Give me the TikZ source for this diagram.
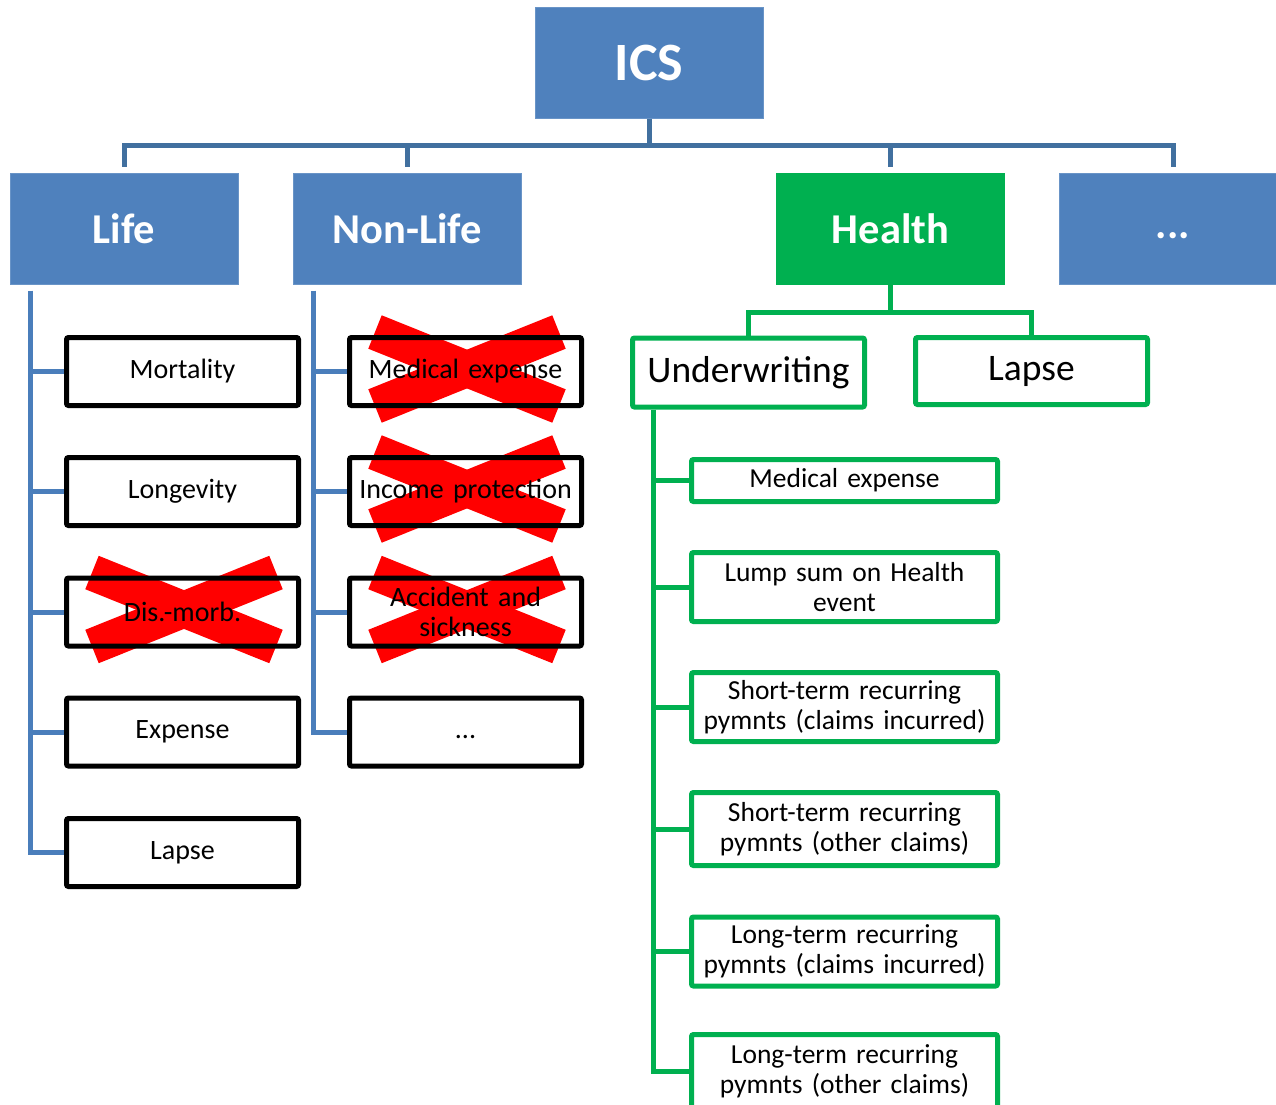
\documentclass[tikz,border=0pt]{standalone}
\usepackage{fontspec}
\setmainfont{Carlito}
\usetikzlibrary{calc,backgrounds}
\definecolor{icsblue}{HTML}{4F81BD}
\definecolor{busblue}{HTML}{41709F}
\definecolor{connblue}{HTML}{4A7EBB}
\definecolor{hgreen}{HTML}{00B050}
\tikzset{
  topbox/.style={fill=icsblue, draw=icsblue!85!white, line width=1pt, text=white, inner sep=0pt,
    minimum width=228pt, minimum height=111pt, font=\bfseries\fontsize{42.5}{48}\selectfont},
  icsbox/.style={topbox, font=\bfseries\fontsize{54}{60}\selectfont},
  healthbox/.style={topbox, fill=hgreen, draw=hgreen},
  riskbox/.style={draw=black, line width=5pt, rounded corners=2pt, inner sep=0pt,
    minimum width=232pt, minimum height=68pt, align=center, text width=230pt,
    font=\fontsize{28}{30}\selectfont},
  gbox/.style={draw=hgreen, line width=5pt, rounded corners=2pt, inner sep=0pt,
    minimum width=232pt, minimum height=69pt, align=center, text width=230pt,
    font=\fontsize{37.5}{42}\selectfont},
  gsub/.style={draw=hgreen, line width=5pt, rounded corners=2pt, inner sep=0pt,
    minimum width=306pt, minimum height=69pt, align=center, text width=300pt,
    font=\fontsize{27.5}{30}\selectfont},
  busline/.style={draw=busblue, line width=5pt},
  bconn/.style={draw=connblue, line width=5pt},
  gconn/.style={draw=hgreen, line width=5pt},
  xbar/.style={draw=red, line width=36pt, line cap=butt}
}
\begin{document}
\begin{tikzpicture}[x=1pt,y=-1pt]
\useasboundingbox (0,0) rectangle (1276,1104);
% level 0 and 1
\node[icsbox] (ics) at (649,62.5) {ICS};
\node[topbox] (life) at (124,228.5) {Life};
\node[topbox] (nonlife) at (407,228.5) {Non-Life};
\node[healthbox] (health) at (890.5,228.5) {Health};
\node[topbox] (more) at (1173,228.5) {\vphantom{Lg}...};
% life children
\node[riskbox] (mort) at (182.5,371.5) {Mortality};
\node[riskbox] (long) at (182.5,491.5) {Longevity};
\node[riskbox] (dis) at (182.5,612) {Dis.-morb.};
\node[riskbox] (exp) at (182.5,732) {Expense};
\node[riskbox] (lapl) at (182.5,852.5) {Lapse};
% non-life children
\node[riskbox] (nmed) at (465.5,371.5) {Medical expense};
\node[riskbox] (ninc) at (465.5,491.5) {Income protection};
\node[riskbox] (nacc) at (465.5,612) {Accident and\\sickness};
\node[riskbox] (nmore) at (465.5,732) {\vphantom{Lg}...};
% health children
\node[gbox] (uw) at (748.5,372.5) {Underwriting};
\node[gbox, minimum height=67pt] (hlapse) at (1031.5,371) {Lapse};
\node[gsub, minimum height=42pt] (g1) at (844.5,480.5) {Medical expense};
\node[gsub] (g2) at (844.5,587) {Lump sum on Health\\event};
\node[gsub] (g3) at (844.5,707) {Short-term recurring\\pymnts (claims incurred)};
\node[gsub, minimum height=73pt] (g4) at (844.5,829) {Short-term recurring\\pymnts (other claims)};
\node[gsub] (g5) at (844.5,951.5) {Long-term recurring\\pymnts (claims incurred)};
\node[gsub, minimum height=73pt] (g6) at (844.5,1071) {Long-term recurring\\pymnts (other claims)};
% red crosses behind crossed boxes
\begin{scope}[on background layer]
  \foreach \n in {dis,nmed,ninc,nacc}{
    \draw[xbar] ($(\n.center)+(-90.5,-39.5)$) -- ($(\n.center)+(93.5,34.5)$);
    \draw[xbar] ($(\n.center)+(-90.5,34.5)$) -- ($(\n.center)+(93.5,-39.5)$);
  }
\end{scope}
% top bus
\coordinate (busL) at ($(life.north)+(0,-27)$);
\coordinate (busR) at ($(more.north)+(0,-27)$);
\draw[busline] (ics.south) -- (ics.south |- busL);
\draw[busline] ($(life.north)+(0,-6)$) -- (busL) -- (busR) -- ($(more.north)+(0,-6)$);
\draw[busline] ($(nonlife.north)+(0,-6)$) -- (nonlife.north |- busL);
\draw[busline] ($(health.north)+(0,-6)$) -- (health.north |- busL);
% life tree
\coordinate (lspine) at ($(life.south west)+(21,6)$);
\draw[bconn] (lspine) |- (lapl.west);
\foreach \n in {mort,long,dis,exp}{\draw[bconn] (\n.west) -- (\n.west -| lspine);}
% non-life tree
\coordinate (nspine) at ($(nonlife.south west)+(21,6)$);
\draw[bconn] (nspine) |- (nmore.west);
\foreach \n in {nmed,ninc,nacc}{\draw[bconn] (\n.west) -- (\n.west -| nspine);}
% health tree
\coordinate (hbus) at ($(health.south)+(0,28)$);
\draw[gconn] (health.south) -- (hbus);
\draw[gconn] (uw.north) |- (hbus) -| (hlapse.north);
\coordinate (uspine) at ($(uw.south west)+(23.5,0)$);
\draw[gconn] (uspine) |- (g6.west);
\foreach \n in {g1,g2,g3,g4,g5}{\draw[gconn] (\n.west) -- (\n.west -| uspine);}
\end{tikzpicture}
\end{document}
